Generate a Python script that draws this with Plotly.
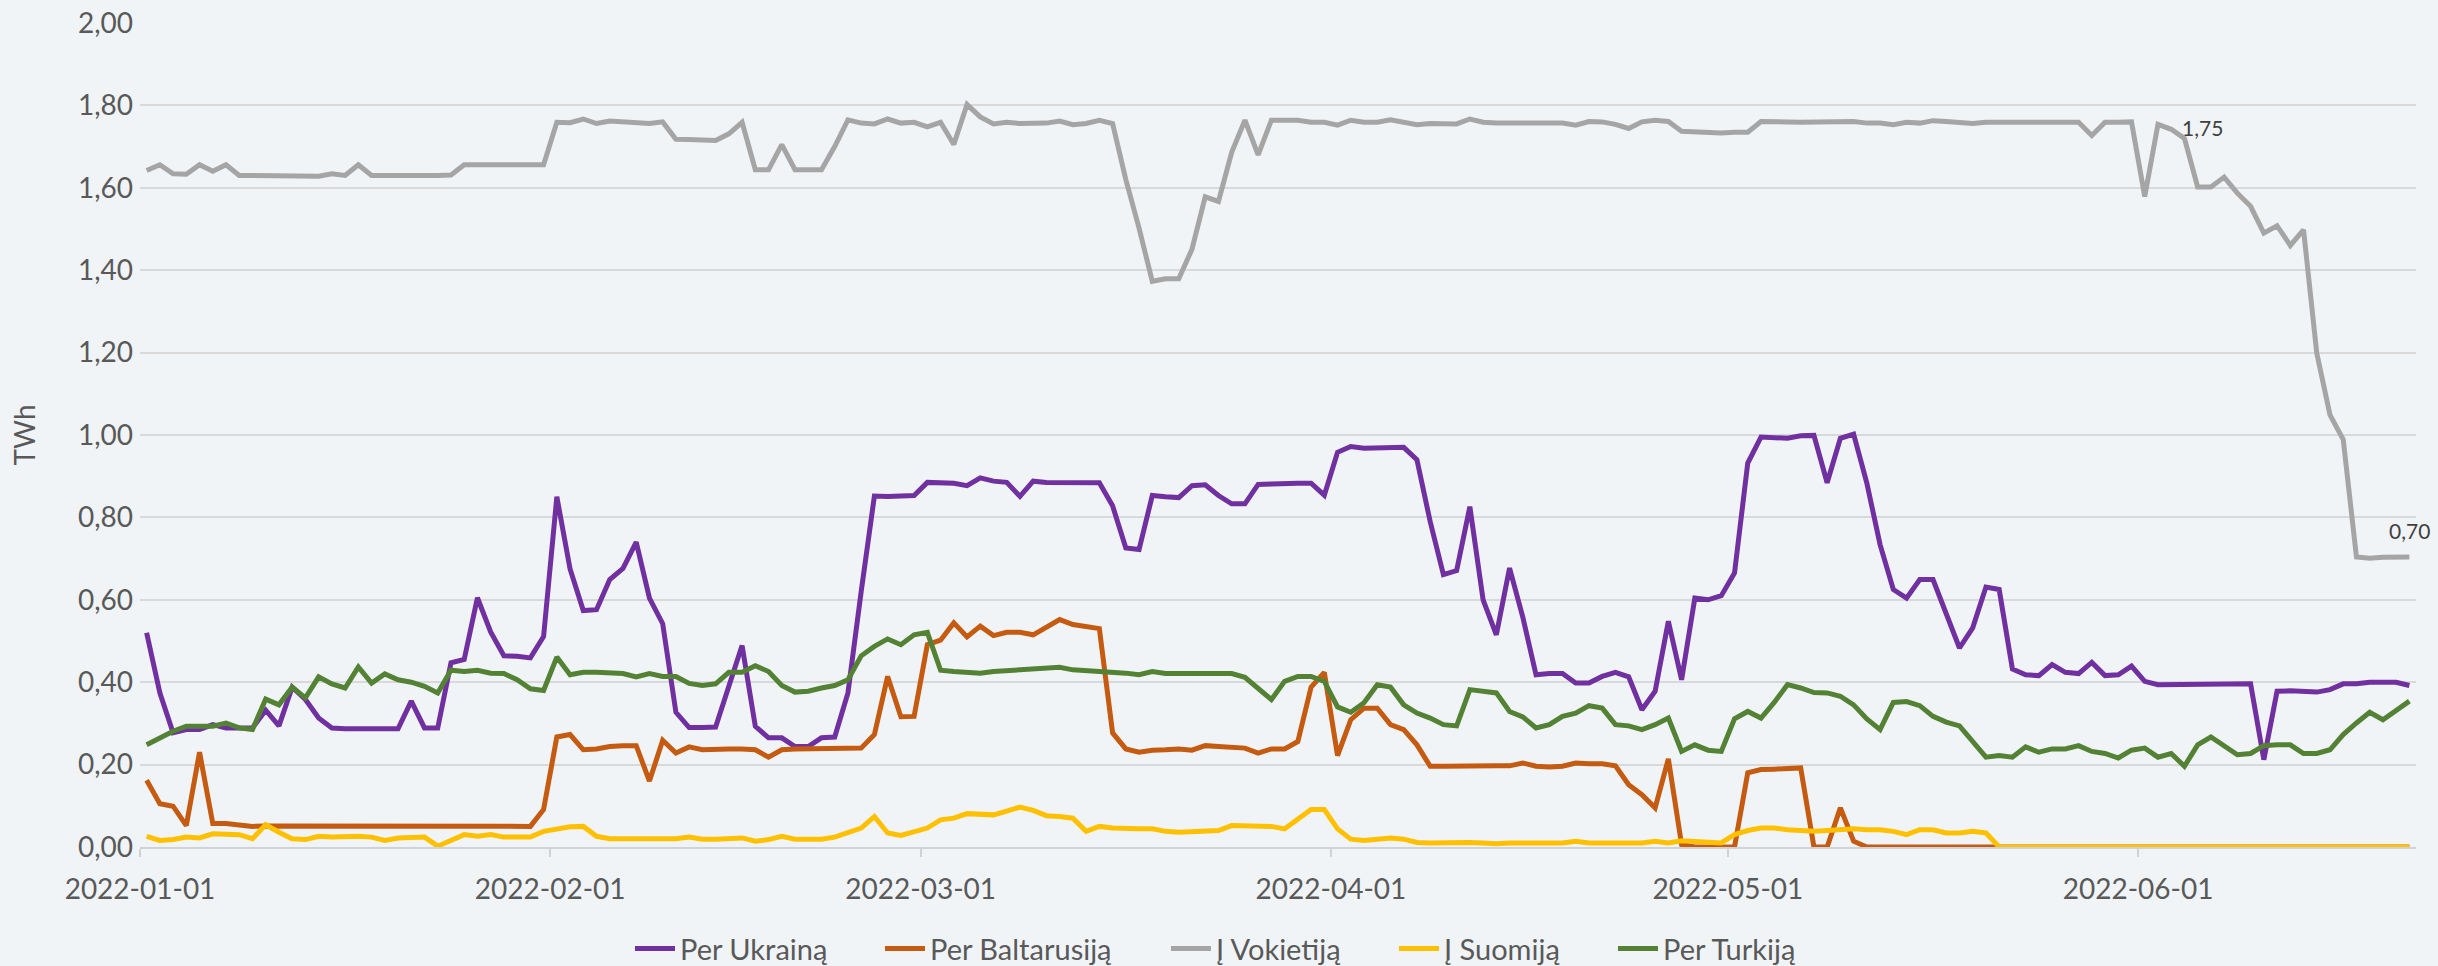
import pandas as pd
import plotly.graph_objects as go

# Daily values, 2022-01-01 .. 2022-06-21 (TWh)
start_date = "2022-01-01"
n_days = 172

per_ukraina = [
    0.520, 0.374, 0.277, 0.285, 0.285, 0.297, 0.289, 0.289, 0.289, 0.332,
    0.294, 0.388, 0.358, 0.313, 0.289, 0.287, 0.287, 0.287, 0.287, 0.287,
    0.354, 0.289, 0.289, 0.447, 0.455, 0.605, 0.522, 0.464, 0.463, 0.459,
    0.511, 0.850, 0.675, 0.574, 0.576, 0.649, 0.676, 0.740, 0.604, 0.542,
    0.327, 0.290, 0.290, 0.291, 0.390, 0.489, 0.293, 0.265, 0.265, 0.244,
    0.244, 0.265, 0.267, 0.374, 0.620, 0.852, 0.851, 0.852, 0.853, 0.885,
    0.884, 0.883, 0.877, 0.896, 0.888, 0.885, 0.851, 0.888, 0.885, 0.885,
    0.885, 0.885, 0.884, 0.828, 0.726, 0.722, 0.853, 0.850, 0.848, 0.877,
    0.879, 0.853, 0.833, 0.833, 0.880, 0.881, 0.883, 0.883, 0.883, 0.854,
    0.958, 0.972, 0.968, 0.968, 0.968, 0.970, 0.940, 0.790, 0.661, 0.671,
    0.826, 0.600, 0.515, 0.677, 0.558, 0.418, 0.421, 0.421, 0.398, 0.398,
    0.414, 0.424, 0.413, 0.333, 0.378, 0.548, 0.406, 0.604, 0.600, 0.610,
    0.665, 0.932, 0.995, 0.994, 0.992, 0.998, 0.999, 0.884, 0.992, 1.002,
    0.883, 0.734, 0.625, 0.604, 0.649, 0.649, 0.568, 0.483, 0.532, 0.631,
    0.625, 0.432, 0.418, 0.416, 0.443, 0.424, 0.421, 0.448, 0.416, 0.418,
    0.439, 0.402, 0.394, 0.394, 0.394, 0.394, 0.396, 0.396, 0.396, 0.396,
    0.212, 0.378, 0.379, 0.379, 0.376, 0.382, 0.396, 0.396, 0.400, 0.400,
    0.400, 0.392,
]

per_baltarusija = [
    0.162, 0.105, 0.099, 0.052, 0.230, 0.057, 0.057, 0.052, 0.050, 0.051,
    0.051, 0.051, 0.051, 0.050, 0.050, 0.050, 0.050, 0.050, 0.050, 0.050,
    0.050, 0.050, 0.050, 0.050, 0.051, 0.051, 0.050, 0.050, 0.050, 0.050,
    0.091, 0.267, 0.273, 0.236, 0.238, 0.244, 0.246, 0.246, 0.160, 0.259,
    0.228, 0.243, 0.236, 0.238, 0.238, 0.238, 0.236, 0.218, 0.236, 0.238,
    0.238, 0.238, 0.238, 0.240, 0.240, 0.273, 0.414, 0.316, 0.317, 0.491,
    0.502, 0.544, 0.510, 0.536, 0.513, 0.521, 0.521, 0.515, 0.532, 0.552,
    0.540, 0.536, 0.530, 0.277, 0.238, 0.230, 0.235, 0.236, 0.238, 0.235,
    0.246, 0.244, 0.243, 0.240, 0.228, 0.238, 0.238, 0.256, 0.388, 0.424,
    0.222, 0.309, 0.337, 0.337, 0.297, 0.285, 0.248, 0.196, 0.196, 0.197,
    0.197, 0.196, 0.197, 0.197, 0.204, 0.196, 0.194, 0.196, 0.204, 0.202,
    0.202, 0.197, 0.151, 0.127, 0.095, 0.214, 0.006, 0.000, 0.000, 0.000,
    0.000, 0.180, 0.188, 0.189, 0.189, 0.192, 0.000, 0.000, 0.095, 0.014,
    0.000, 0.000, 0.000, 0.000, 0.000, 0.000, 0.000, 0.000, 0.000, 0.000,
    0.000, 0.000, 0.000, 0.000, 0.000, 0.000, 0.000, 0.000, 0.000, 0.000,
    0.000, 0.000, 0.000, 0.000, 0.000, 0.000, 0.000, 0.000, 0.000, 0.000,
    0.000, 0.000, 0.000, 0.000, 0.000, 0.000, 0.000, 0.000, 0.000, 0.000,
    0.000, 0.000,
]

i_vokietija = [
    1.642, 1.656, 1.634, 1.633, 1.656, 1.640, 1.656, 1.630, 1.630, 1.630,
    1.630, 1.630, 1.629, 1.628, 1.634, 1.630, 1.656, 1.630, 1.630, 1.631,
    1.630, 1.630, 1.630, 1.631, 1.656, 1.656, 1.656, 1.657, 1.656, 1.657,
    1.656, 1.759, 1.758, 1.767, 1.756, 1.762, 1.760, 1.759, 1.756, 1.760,
    1.718, 1.717, 1.717, 1.715, 1.731, 1.759, 1.644, 1.644, 1.705, 1.644,
    1.644, 1.644, 1.700, 1.765, 1.757, 1.755, 1.767, 1.757, 1.759, 1.748,
    1.759, 1.705, 1.802, 1.772, 1.755, 1.759, 1.756, 1.756, 1.757, 1.762,
    1.753, 1.756, 1.764, 1.756, 1.620, 1.502, 1.373, 1.379, 1.379, 1.451,
    1.578, 1.567, 1.686, 1.764, 1.680, 1.764, 1.764, 1.764, 1.759, 1.759,
    1.752, 1.764, 1.759, 1.759, 1.765, 1.759, 1.753, 1.756, 1.757, 1.755,
    1.767, 1.759, 1.757, 1.757, 1.757, 1.757, 1.755, 1.757, 1.752, 1.761,
    1.760, 1.754, 1.744, 1.760, 1.764, 1.761, 1.737, 1.735, 1.733, 1.733,
    1.735, 1.735, 1.761, 1.759, 1.760, 1.759, 1.760, 1.761, 1.759, 1.761,
    1.757, 1.757, 1.753, 1.759, 1.757, 1.763, 1.761, 1.759, 1.756, 1.759,
    1.759, 1.759, 1.759, 1.759, 1.759, 1.759, 1.759, 1.727, 1.759, 1.759,
    1.760, 1.579, 1.754, 1.742, 1.720, 1.602, 1.602, 1.626, 1.587, 1.555,
    1.490, 1.508, 1.460, 1.498, 1.199, 1.049, 0.989, 0.704, 0.701, 0.703,
    0.703, 0.704,
]

i_suomija = [
    0.026, 0.016, 0.018, 0.024, 0.022, 0.032, 0.031, 0.030, 0.020, 0.054,
    0.036, 0.020, 0.018, 0.026, 0.024, 0.026, 0.026, 0.024, 0.016, 0.022,
    0.024, 0.024, 0.002, 0.016, 0.030, 0.026, 0.030, 0.024, 0.024, 0.024,
    0.038, 0.044, 0.049, 0.050, 0.026, 0.020, 0.020, 0.022, 0.022, 0.020,
    0.020, 0.024, 0.019, 0.019, 0.022, 0.022, 0.014, 0.018, 0.026, 0.019,
    0.019, 0.019, 0.024, 0.034, 0.046, 0.074, 0.034, 0.028, 0.038, 0.046,
    0.066, 0.070, 0.081, 0.078, 0.078, 0.087, 0.097, 0.089, 0.076, 0.074,
    0.070, 0.038, 0.050, 0.046, 0.044, 0.044, 0.044, 0.038, 0.036, 0.038,
    0.038, 0.040, 0.052, 0.052, 0.050, 0.050, 0.044, 0.066, 0.091, 0.091,
    0.044, 0.019, 0.016, 0.019, 0.022, 0.019, 0.011, 0.010, 0.011, 0.011,
    0.011, 0.010, 0.008, 0.010, 0.010, 0.008, 0.008, 0.010, 0.014, 0.010,
    0.010, 0.010, 0.010, 0.010, 0.014, 0.010, 0.015, 0.014, 0.012, 0.010,
    0.030, 0.040, 0.046, 0.046, 0.042, 0.040, 0.038, 0.040, 0.042, 0.044,
    0.042, 0.042, 0.038, 0.030, 0.042, 0.042, 0.034, 0.034, 0.038, 0.034,
    0.000, 0.000, 0.000, 0.000, 0.000, 0.000, 0.000, 0.000, 0.000, 0.000,
    0.000, 0.000, 0.000, 0.000, 0.000, 0.000, 0.000, 0.000, 0.000, 0.000,
    0.000, 0.000, 0.000, 0.000, 0.000, 0.000, 0.000, 0.000, 0.000, 0.000,
    0.000, 0.000,
]

per_turkija = [
    0.248, 0.265, 0.281, 0.293, 0.293, 0.293, 0.301, 0.289, 0.285, 0.359,
    0.345, 0.388, 0.362, 0.413, 0.396, 0.386, 0.437, 0.398, 0.420, 0.406,
    0.400, 0.390, 0.374, 0.429, 0.426, 0.429, 0.422, 0.421, 0.406, 0.384,
    0.380, 0.461, 0.418, 0.424, 0.424, 0.424, 0.421, 0.413, 0.421, 0.414,
    0.414, 0.397, 0.392, 0.396, 0.424, 0.424, 0.440, 0.426, 0.392, 0.376,
    0.378, 0.386, 0.392, 0.406, 0.464, 0.487, 0.505, 0.491, 0.515, 0.521,
    0.429, 0.426, 0.424, 0.422, 0.426, 0.428, 0.430, 0.434, 0.433, 0.436,
    0.430, 0.428, 0.426, 0.426, 0.422, 0.418, 0.426, 0.421, 0.421, 0.424,
    0.424, 0.424, 0.421, 0.412, 0.386, 0.358, 0.402, 0.414, 0.414, 0.402,
    0.340, 0.327, 0.350, 0.394, 0.388, 0.345, 0.325, 0.313, 0.297, 0.294,
    0.382, 0.378, 0.374, 0.329, 0.316, 0.289, 0.297, 0.317, 0.325, 0.343,
    0.337, 0.297, 0.294, 0.285, 0.297, 0.313, 0.232, 0.248, 0.235, 0.232,
    0.311, 0.329, 0.313, 0.351, 0.394, 0.386, 0.375, 0.374, 0.366, 0.345,
    0.311, 0.285, 0.351, 0.353, 0.343, 0.317, 0.303, 0.294, 0.256, 0.218,
    0.222, 0.218, 0.243, 0.230, 0.238, 0.238, 0.246, 0.232, 0.227, 0.216,
    0.235, 0.240, 0.218, 0.227, 0.196, 0.248, 0.267, 0.244, 0.224, 0.227,
    0.246, 0.248, 0.248, 0.227, 0.227, 0.236, 0.273, 0.301, 0.327, 0.309,
    0.332, 0.354,
]

series_names = ["Per Ukrainą", "Per Baltarusiją", "Į Vokietiją", "Į Suomiją", "Per Turkiją"]
series_values = [per_ukraina, per_baltarusija, i_vokietija, i_suomija, per_turkija]
series_colors = ["#7030A0", "#C55A11", "#A5A5A5", "#FFC000", "#548235"]

month_ticks = ["2022-01-01", "2022-02-01", "2022-03-01", "2022-04-01", "2022-05-01", "2022-06-01"]

# each daily value sits in the middle of its day slot (like a spreadsheet date axis)
dates = pd.date_range(start_date, periods=n_days, freq="D") + pd.Timedelta(hours=12)

FONT = "Lato, Carlito, 'Open Sans', sans-serif"
TXT = "#595959"
W, H = 2438, 966

# legend entry left edges (px from the left of the figure), one legend per series
legend_left_px = [630, 880, 1166, 1394, 1613]

fig = go.Figure()
for k, (name, vals, col) in enumerate(zip(series_names, series_values, series_colors)):
    lg = "legend" if k == 0 else f"legend{k + 1}"
    fig.add_trace(go.Scatter(
        x=dates, y=vals, name=name, mode="lines",
        line=dict(color=col, width=5), legend=lg,
    ))

def fmt(v):
    return f"{v:.2f}".replace(".", ",")

# data labels on the Germany series
lab_peak = 152
lab_end = n_days - 1
fig.add_annotation(x=dates[lab_peak], y=i_vokietija[lab_peak], text=fmt(i_vokietija[lab_peak]),
                   showarrow=False, xanchor="left", yanchor="middle", xshift=22, yshift=-3,
                   font=dict(family=FONT, size=21, color="#404040"))
fig.add_annotation(x=dates[lab_end], y=i_vokietija[lab_end], text=fmt(i_vokietija[lab_end]),
                   showarrow=False, xanchor="center", yanchor="bottom", yshift=12,
                   font=dict(family=FONT, size=21, color="#404040"))

legends = {}
for k, px in enumerate(legend_left_px):
    key = "legend" if k == 0 else f"legend{k + 1}"
    legends[key] = dict(
        orientation="h", xref="container", yref="container",
        x=px / W, xanchor="left", y=0.018, yanchor="middle",
        font=dict(family=FONT, size=29, color=TXT),
        bgcolor="rgba(0,0,0,0)", itemwidth=40,
    )

fig.update_layout(
    width=W, height=H,
    paper_bgcolor="#F0F4F7", plot_bgcolor="#F0F4F7",
    margin=dict(l=140, r=22, t=23, b=119, autoexpand=False),
    separators=", ",
    font=dict(family=FONT, color=TXT, size=28),
    showlegend=True,
    xaxis=dict(
        type="date", automargin=False,
        range=[start_date, "2022-06-22"],
        tickvals=month_ticks, ticktext=month_ticks,
        showgrid=False, zeroline=False,
        showline=True, linecolor="#D0D3D6", linewidth=1.5,
        ticks="outside", ticklen=8, tickcolor="#D0D3D6", tickwidth=1.5,
        tickfont=dict(family=FONT, size=28, color=TXT),
        ticklabelstandoff=9,
    ),
    yaxis=dict(
        automargin=False,
        range=[0, 2.0], dtick=0.2, tick0=0, tickformat=".2f",
        showgrid=True, gridcolor="#D9D9D9", gridwidth=1.5,
        zeroline=False, showline=False, ticks="",
        tickfont=dict(family=FONT, size=28, color=TXT),
        ticklabelstandoff=6,
        title=dict(text="TWh", font=dict(family=FONT, size=28, color=TXT), standoff=34),
    ),
    **legends,
)

fig.write_html(
    "out.html",
    config={"displayModeBar": False},
    post_script="document.body.style.margin='0px';document.body.style.overflow='hidden';",
)
